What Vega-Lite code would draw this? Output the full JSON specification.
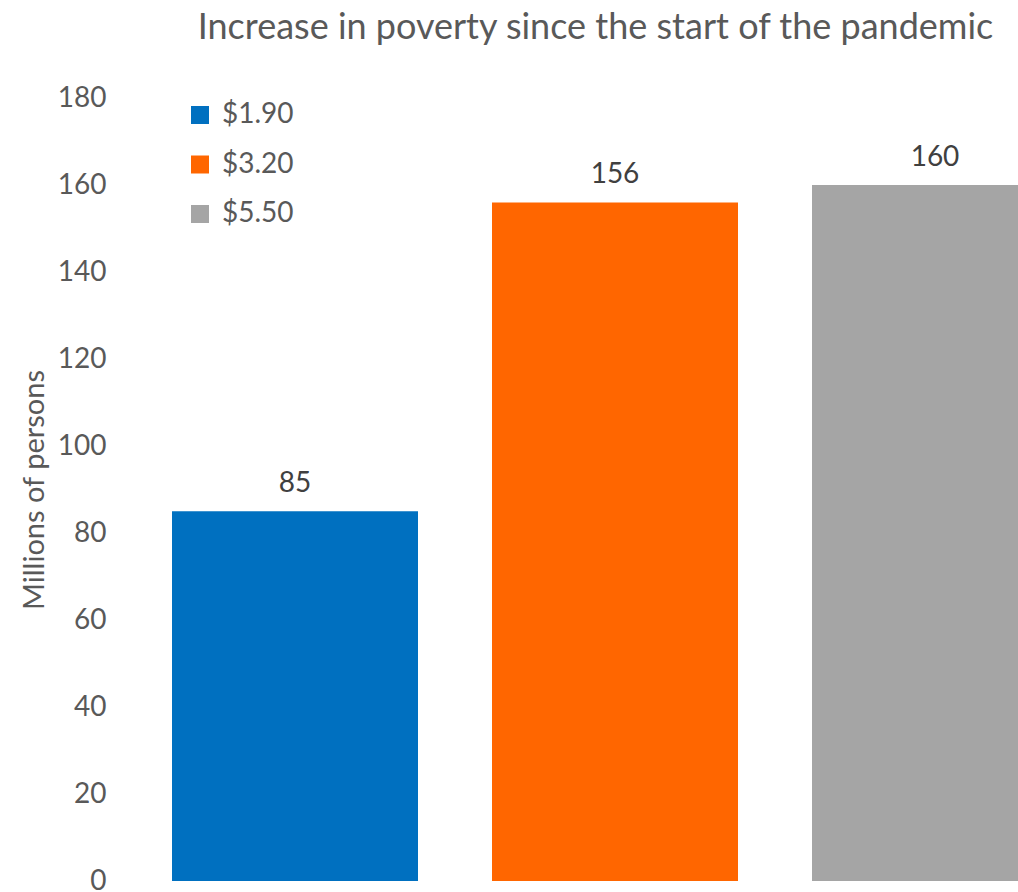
{
  "$schema": "https://vega.github.io/schema/vega-lite/v6.json",
  "autosize": "none",
  "width": 883,
  "height": 783,
  "padding": {"left": 135, "top": 98, "right": 0, "bottom": 11},
  "background": "white",
  "config": {"view": {"stroke": null}},
  "title": {
    "text": "Increase in poverty since the start of the pandemic",
    "anchor": "middle",
    "dx": 19,
    "offset": 37,
    "font": "Lato",
    "fontSize": 36,
    "fontWeight": "normal",
    "color": "#595959"
  },
  "data": {
    "values": [
      {"line": "$1.90", "value": 85},
      {"line": "$3.20", "value": 156},
      {"line": "$5.50", "value": 160}
    ]
  },
  "encoding": {
    "x": {
      "field": "line",
      "type": "nominal",
      "sort": null,
      "axis": null,
      "scale": {"range": [0, 960], "paddingInner": 0.23125, "paddingOuter": 0.115625}
    },
    "y": {
      "field": "value",
      "type": "quantitative",
      "scale": {"domain": [0, 180], "nice": false},
      "axis": {
        "title": "Millions of persons",
        "values": [0, 20, 40, 60, 80, 100, 120, 140, 160, 180],
        "grid": false,
        "domain": false,
        "ticks": false,
        "labelPadding": 29,
        "labelFont": "Lato",
        "labelFontSize": 28,
        "labelColor": "#595959",
        "titleFont": "Lato",
        "titleFontSize": 29,
        "titleFontWeight": "normal",
        "titleColor": "#595959",
        "titlePadding": 8
      }
    }
  },
  "layer": [
    {
      "mark": {"type": "bar"},
      "encoding": {
        "color": {
          "field": "line",
          "type": "nominal",
          "scale": {"domain": ["$1.90", "$3.20", "$5.50"], "range": ["#0070C0", "#FF6600", "#A5A5A5"]},
          "legend": {
            "title": null,
            "orient": "none",
            "legendX": 51,
            "legendY": 3,
            "symbolType": "square",
            "symbolSize": 324,
            "symbolStrokeWidth": 0,
            "labelFont": "Lato",
            "labelFontSize": 28,
            "labelColor": "#595959",
            "labelOffset": 8,
            "rowPadding": 21.5
          }
        }
      }
    },
    {
      "mark": {"type": "text", "dy": -27, "baseline": "middle", "font": "Lato", "fontSize": 28, "color": "#404040"},
      "encoding": {"text": {"field": "value", "type": "quantitative"}}
    }
  ]
}
